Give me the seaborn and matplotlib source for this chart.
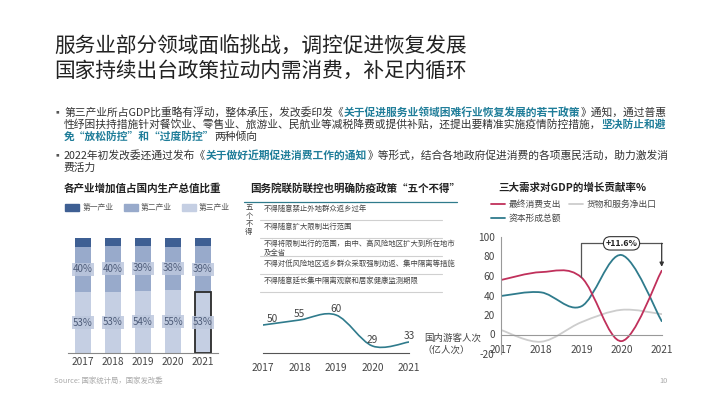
import numpy as np
import pandas as pd
import matplotlib.pyplot as plt
import seaborn as sns
from matplotlib.path import Path
from matplotlib.patches import PathPatch, Patch
from matplotlib.lines import Line2D

sns.set_theme(style='white')
plt.rcParams['font.family'] = ['Noto Sans CJK SC', 'DejaVu Sans']
plt.rcParams['axes.unicode_minus'] = False

W, H = 710, 399

# --- data ---
years = ['2017', '2018', '2019', '2020', '2021']
primary = [7.4, 7.0, 7.1, 7.6, 7.3]
secondary = [39.9, 39.7, 38.6, 37.8, 39.4]
tertiary = [52.7, 53.3, 54.3, 54.6, 53.3]

tourist_years = [2017, 2018, 2019, 2020, 2021]
tourists = [50, 55, 60, 29, 33]

gdp_years = [2017, 2018, 2019, 2020, 2021]
consumption = [55.9, 64.0, 58.6, -6.8, 65.4]
capital = [39.5, 43.2, 28.9, 81.5, 13.7]
net_export = [4.6, -7.4, 12.6, 25.3, 20.9]

rules = ['不得随意禁止外地群众返乡过年',
         '不得随意扩大限制出行范围',
         '不得将限制出行的范围，由中、高风险地区扩大到所在地市\n及全省',
         '不得对低风险地区返乡群众采取强制劝返、集中隔离等措施',
         '不得随意延长集中隔离观察和居家健康监测期限']

C1, C2, C3 = '#3e5f93', '#98aacb', '#c5cfe3'
RED, TEAL, GREY = '#c0305b', '#2f7b8c', '#cdcdcd'
DARK, HL = '#333333', '#1f7d99'


def fx(px):
    return px / W


def fy(py):
    return 1 - py / H


def smooth(ax, xs, ys, color, lw=1.3):
    # Catmull-Rom style bezier through the data points
    pts = np.column_stack([xs, ys]).astype(float)
    n = len(pts)
    verts, codes = [pts[0]], [Path.MOVETO]
    for i in range(n - 1):
        p0 = pts[i - 1] if i > 0 else pts[i]
        p1, p2 = pts[i], pts[i + 1]
        p3 = pts[i + 2] if i + 2 < n else pts[i + 1]
        verts += [p1 + (p2 - p0) / 6, p2 - (p3 - p1) / 6, p2]
        codes += [Path.CURVE4] * 3
    ax.add_patch(PathPatch(Path(verts, codes), fc='none', ec=color, lw=lw, capstyle='round'))


fig = plt.figure(figsize=(7.1, 3.99), dpi=100)
renderer = fig.canvas.get_renderer()
bg = fig.add_axes([0, 0, 1, 1])
bg.axis('off')
bg.set_xlim(0, 1)
bg.set_ylim(0, 1)

# title
bg.text(fx(54), fy(47), '服务业部分领域面临挑战，调控促进恢复发展', fontsize=14.9, color='#222', va='center')
bg.text(fx(54), fy(71), '国家持续出台政策拉动内需消费，补足内循环', fontsize=14.9, color='#222', va='center')


def rich(x, y, parts, size=7.75):
    # text pieces placed one after another on a common baseline
    xp = x
    for txt, hl in parts:
        t = bg.text(fx(xp), fy(y), txt, fontsize=size, color=HL if hl else DARK,
                    fontweight='bold' if hl else 'normal', va='baseline', ha='left')
        xp = t.get_window_extent(renderer).x1


bg.text(fx(57), fy(112), '▪', fontsize=7, color='#555', va='center', ha='center')
rich(64, 116, [('第三产业所占GDP比重略有浮动，整体承压，发改委印发《', False),
               ('关于促进服务业领域困难行业恢复发展的若干政策', True), ('》通知，通过普惠', False)])
rich(64, 128, [('性纾困扶持措施针对餐饮业、零售业、旅游业、民航业等减税降费或提供补贴，还提出要精准实施疫情防控措施，', False),
               ('坚决防止和避', True)])
rich(64, 140, [('免“放松防控”和“过度防控”', True), ('两种倾向', False)])
bg.text(fx(57), fy(155), '▪', fontsize=7, color='#555', va='center', ha='center')
rich(64, 159, [('2022年初发改委还通过发布《', False), ('关于做好近期促进消费工作的通知', True),
               ('》等形式，结合各地政府促进消费的各项惠民活动，助力激发消', False)])
rich(64, 171, [('费活力', False)])

# chart titles
bg.text(fx(142), fy(188), '各产业增加值占国内生产总值比重', fontsize=7.6, fontweight='bold', ha='center', va='center', color='#222')
bg.text(fx(355), fy(188), '国务院联防联控也明确防疫政策“五个不得”', fontsize=7.6, fontweight='bold', ha='center', va='center', color='#222')
bg.text(fx(572), fy(188), '三大需求对GDP的增长贡献率%', fontsize=7.6, fontweight='bold', ha='center', va='center', color='#222')

# --- chart 1: stacked bars ---
df = pd.DataFrame({'year': years, 'p1': primary, 'p2': secondary, 'p3': tertiary})
df['top'] = df['p1'] + df['p2'] + df['p3']
df['mid'] = df['p2'] + df['p3']
ax1 = fig.add_axes([fx(68), fy(353), 150 / W, 115 / H])
ax1.patch.set_alpha(0)
for col, c in [('top', C1), ('mid', C2), ('p3', C3)]:
    sns.barplot(data=df, x='year', y=col, color=c, width=0.53, saturation=1, linewidth=0, ax=ax1)
last = ax1.patches[-1]
last.set_edgecolor('#2b2b2b')
last.set_linewidth(1.3)
ax1.set_ylim(0, 100)
ax1.set_xlim(-0.5, 4.5)
for i in range(len(years)):
    for yv, v in [(df['p3'][i] + df['p2'][i] / 2, df['p2'][i]), (df['p3'][i] / 2, df['p3'][i])]:
        ax1.text(i, yv, f'{v:.0f}%', ha='center', va='center', fontsize=7, color='#4d5b78',
                 bbox=dict(boxstyle='square,pad=0.15', fc='#bcc7dd', ec='none', alpha=0.85))
sns.despine(ax=ax1, left=True)
ax1.spines['bottom'].set_color('#888')
ax1.spines['bottom'].set_linewidth(0.8)
ax1.set_yticks([])
ax1.set_xlabel('')
ax1.set_ylabel('')
ax1.tick_params(axis='x', length=0, labelsize=7.3, labelcolor='#444', pad=3)
ax1.legend(handles=[Patch(color=C1, label='第一产业'), Patch(color=C2, label='第二产业'), Patch(color=C3, label='第三产业')],
           loc='center left', bbox_to_anchor=(fx(60), fy(208)), bbox_transform=fig.transFigure, ncol=3,
           frameon=False, fontsize=5.6, labelcolor='#555', handlelength=1.8, handleheight=0.9,
           handletextpad=0.4, columnspacing=1.3, borderpad=0.2)

# --- chart 2: five rules + tourists ---
fig.add_artist(Line2D([fx(244), fx(457)], [fy(202), fy(202)], color=TEAL, lw=0.9))
for i, ch in enumerate('五个不得'):
    bg.text(fx(249), fy(208 + i * 8), ch, fontsize=5.3, color='#444', ha='center', va='center')
rule_y = [209, 227, 248.5, 264, 281]
sep_y = [220, 238, 256, 274, 292]
for t, ry, sy in zip(rules, rule_y, sep_y):
    bg.text(fx(264), fy(ry), t, fontsize=5.3, color='#444', va='center', linespacing=1.05)
    fig.add_artist(Line2D([fx(260), fx(442)], [fy(sy), fy(sy)], color='#d0d0d0', lw=0.8))

ax2 = fig.add_axes([fx(263), fy(353), 146 / W, 53 / H])
ax2.patch.set_alpha(0)
smooth(ax2, tourist_years, tourists, TEAL, lw=1.2)
ax2.set_xlim(2017, 2021)
ax2.set_ylim(22, 75)
sns.despine(ax=ax2, left=True)
ax2.spines['bottom'].set_color('#555')
ax2.spines['bottom'].set_linewidth(0.8)
ax2.set_yticks([])
ax2.set_xticks(tourist_years)
ax2.tick_params(axis='x', direction='inout', length=5, width=0.8, color='#555', labelsize=7.3, labelcolor='#444', pad=5)
for i, (xv, v) in enumerate(zip(tourist_years, tourists)):
    ax2.annotate(str(v), xy=(xv, v), xytext=(3 if i == 0 else 0, 4.5), textcoords='offset points',
                 ha='left' if i == 0 else 'center', va='center', fontsize=7.3, color='#444')
bg.text(fx(424), fy(338), '国内游客人次', fontsize=6.8, color='#444', va='center')
bg.text(fx(422), fy(350), '（亿人次）', fontsize=6.8, color='#444', va='center')

# --- chart 3: GDP contribution ---
ax3 = fig.add_axes([fx(501), fy(354), 160.7 / W, 117 / H])
ax3.patch.set_alpha(0)
smooth(ax3, gdp_years, net_export, GREY)
smooth(ax3, gdp_years, capital, TEAL)
smooth(ax3, gdp_years, consumption, RED)
ax3.set_xlim(2017, 2021)
ax3.set_ylim(-20, 100)
ax3.set_xticks(gdp_years)
ax3.set_yticks([-20, 0, 20, 40, 60, 80, 100])
sns.despine(ax=ax3)
ax3.spines['bottom'].set_position(('data', 0))
for s in ['left', 'bottom']:
    ax3.spines[s].set_color('#999')
    ax3.spines[s].set_linewidth(0.8)
ax3.tick_params(axis='y', length=3, width=0.8, color='#999', labelsize=7.3, labelcolor='#444', pad=1.5)
ax3.tick_params(axis='x', length=0, labelsize=7.3, labelcolor='#444', pad=7.5)

top = 93.5
ax3.plot([2019, 2019, 2021], [consumption[2], top, top], color='#555', lw=0.9, clip_on=False)
ax3.annotate('', xy=(2021, consumption[4] + 4), xytext=(2021, top),
             arrowprops=dict(arrowstyle='-|>', color='#333', lw=0.9, mutation_scale=6, shrinkA=0, shrinkB=0))
ax3.text(2020, top, '+11.6%', ha='center', va='center', fontsize=6.3, fontweight='bold', color='#222',
         bbox=dict(boxstyle='round,pad=0.25,rounding_size=0.8', fc='white', ec='#333', lw=0.8))
ax3.legend(handles=[Line2D([], [], color=RED, lw=1.3, label='最终消费支出'),
                    Line2D([], [], color=TEAL, lw=1.3, label='资本形成总额'),
                    Line2D([], [], color=GREY, lw=1.3, label='货物和服务净出口')],
           loc='upper left', bbox_to_anchor=(fx(486), fy(195)), bbox_transform=fig.transFigure, ncol=2,
           frameon=False, fontsize=6.3, labelcolor='#444', handlelength=1.6, handletextpad=0.4,
           columnspacing=0.9, labelspacing=0.5, borderpad=0.1)

# footer
bg.text(fx(54), fy(381), 'Source: 国家统计局，国家发改委', fontsize=5.3, color='#aaa', va='center')
bg.text(fx(668), fy(381), '10', fontsize=5.3, color='#aaa', va='center', ha='right')

fig.savefig('out.png', dpi=100)
